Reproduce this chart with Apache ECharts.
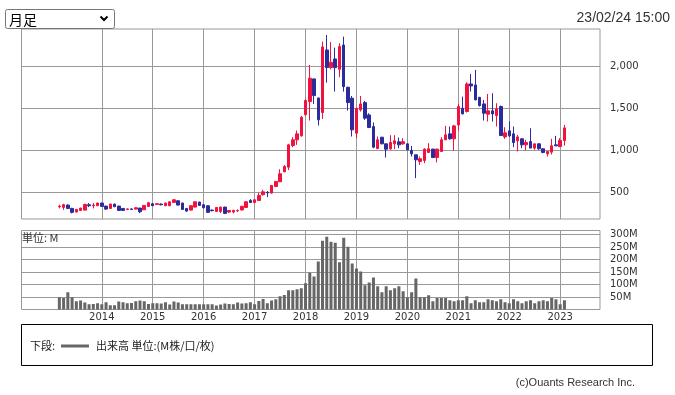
<!DOCTYPE html>
<html><head><meta charset="utf-8">
<script src="https://cdn.jsdelivr.net/npm/echarts@6/dist/echarts.min.js"></script>
<style>html,body{margin:0;padding:0;background:#fff}#c{width:675px;height:395px}</style>
</head><body><div id="c"></div>
<script>
// Monthly categories (Mar 2013 - Feb 2023)
const months = [
 '2013-03','2013-04','2013-05','2013-06','2013-07','2013-08','2013-09','2013-10','2013-11','2013-12',
 '2014-01','2014-02','2014-03','2014-04','2014-05','2014-06','2014-07','2014-08','2014-09','2014-10','2014-11','2014-12',
 '2015-01','2015-02','2015-03','2015-04','2015-05','2015-06','2015-07','2015-08','2015-09','2015-10','2015-11','2015-12',
 '2016-01','2016-02','2016-03','2016-04','2016-05','2016-06','2016-07','2016-08','2016-09','2016-10','2016-11','2016-12',
 '2017-01','2017-02','2017-03','2017-04','2017-05','2017-06','2017-07','2017-08','2017-09','2017-10','2017-11','2017-12',
 '2018-01','2018-02','2018-03','2018-04','2018-05','2018-06','2018-07','2018-08','2018-09','2018-10','2018-11','2018-12',
 '2019-01','2019-02','2019-03','2019-04','2019-05','2019-06','2019-07','2019-08','2019-09','2019-10','2019-11','2019-12',
 '2020-01','2020-02','2020-03','2020-04','2020-05','2020-06','2020-07','2020-08','2020-09','2020-10','2020-11','2020-12',
 '2021-01','2021-02','2021-03','2021-04','2021-05','2021-06','2021-07','2021-08','2021-09','2021-10','2021-11','2021-12',
 '2022-01','2022-02','2022-03','2022-04','2022-05','2022-06','2022-07','2022-08','2022-09','2022-10','2022-11','2022-12',
 '2023-01','2023-02'
];
const openP = [
 325,317,345,305,262,281,285,349,337,337,
 369,333,305,357,333,305,293,299,297,309,
 289,329,361,353,357,337,337,377,396,369,
 305,285,321,381,349,337,285,269,269,321,
 262,262,277,287,317,400,376,400,468,497,
 488,567,623,742,797,1055,1123,1170,1424,1579,
 1849,1622,1448,2194,1984,2087,1964,2253,1749,1619,
 1202,1480,1567,1420,1281,1019,1154,1075,1015,1075,
 1099,1075,1075,996,944,865,877,972,1012,912,
 984,1123,1194,1135,1301,1500,1460,1789,1777,1630,
 1551,1428,1468,1412,1520,1158,1230,1194,1111,1135,
 1063,1103,1024,1075,1016,956,976,1063,1043,1115
];
const closeP = [
 332,349,305,258,293,309,353,337,345,369,
 329,297,357,325,281,281,299,293,313,265,
 341,373,337,361,349,369,384,408,345,293,
 273,337,384,341,313,258,278,317,321,246,
 281,281,281,330,384,376,408,460,503,490,
 579,627,718,805,1063,1123,1194,1392,1591,1857,
 1650,1361,2230,1984,2047,1984,2234,1757,1567,1242,
 1499,1551,1381,1270,1035,1123,1075,1011,1091,1111,
 1063,1101,1004,956,885,897,1012,1016,912,1012,
 1123,1182,1135,1289,1519,1432,1789,1765,1599,1531,
 1440,1468,1432,1492,1174,1206,1170,1091,1158,1063,
 1091,1024,1075,1016,972,984,1051,1051,1115,1265
];
const lowP = [
 305,289,297,246,258,277,281,321,305,333,
 325,289,301,321,277,277,285,289,293,250,
 285,325,333,345,341,333,333,373,341,289,
 265,281,317,337,305,250,270,265,250,238,
 250,246,262,281,313,369,369,396,460,440,
 484,560,619,738,762,1035,1063,1162,1408,1353,
 1551,1293,1373,1805,1964,1698,1869,1698,1472,1162,
 1143,1460,1361,1262,1023,1011,1070,912,1003,1011,
 1023,1063,996,924,666,825,845,970,905,853,
 980,1120,1123,996,1234,1428,1448,1698,1595,1520,
 1353,1341,1341,1281,1174,1134,1154,1035,984,1023,
 996,1024,1004,1004,964,924,948,1051,1035,1055
];
const highP = [
 350,361,353,313,297,313,361,369,369,373,
 373,337,361,361,337,309,305,305,317,313,
 345,384,369,369,365,373,388,416,404,373,
 309,341,388,384,353,341,293,321,325,325,
 285,289,293,337,392,416,412,492,527,512,
 583,631,773,821,1075,1154,1234,1408,1611,2015,
 1853,1626,2293,2372,2289,2222,2273,2353,1757,1646,
 1503,1646,1587,1440,1329,1162,1158,1079,1178,1178,
 1150,1143,1079,1051,944,924,1023,1083,1016,1016,
 1154,1289,1281,1301,1551,1638,1809,1908,1956,1634,
 1599,1670,1678,1559,1531,1273,1341,1281,1182,1143,
 1123,1261,1075,1083,1016,986,1135,1170,1143,1301
];
// Volume in millions
const volume = [
 49,46,69,49,33,36,28,21,22,25,
 21,29,17,17,32,29,25,26,33,36,
 33,22,25,25,24,29,20,32,28,21,
 21,21,21,21,21,21,21,16,20,24,
 22,21,28,24,25,29,21,34,42,25,
 36,41,53,58,77,77,81,85,105,147,
 132,192,275,291,271,267,189,287,251,184,
 164,152,97,108,128,93,69,93,77,85,
 93,73,49,69,124,49,49,57,33,46,
 46,46,37,33,37,37,53,25,37,29,
 29,41,37,33,41,29,25,41,33,25,
 33,37,25,33,37,33,46,41,21,37
];
const yearLabels = ['2014','2015','2016','2017','2018','2019','2020','2021','2022','2023'];
const priceTicks = [500, 1000, 1500, 2000];
const volumeTicks = [50, 100, 150, 200, 250, 300];

function monthIndex(s) { const p = s.split('-'); return (Number(p[0]) - 2014) * 12 + (Number(p[1]) - 1); }
const candleData = months.map((m, i) => [monthIndex(m), openP[i], closeP[i], lowP[i], highP[i]]);
const volData = months.map((m, i) => [monthIndex(m), volume[i]]);
const yearPos = yearLabels.map(y => monthIndex(y + '-01'));

const GRID = '#999999';
const X_MIN = -18.92, X_MAX = 117.38;
const axisFont = { fontFamily: 'DejaVu Sans', fontSize: 10, color: '#333' };
const cjk = '"Noto Sans CJK JP", sans-serif';

const chart = echarts.init(document.getElementById('c'), null, { renderer: 'canvas' });
chart.setOption({
  animation: false,
  backgroundColor: '#fff',
  grid: [
    { left: 21.5, right: 75, top: 29, height: 190, show: true, borderColor: GRID, borderWidth: 1, backgroundColor: 'transparent' },
    { left: 21.5, right: 75, top: 230.5, height: 79, show: true, borderColor: GRID, borderWidth: 1, backgroundColor: 'transparent' }
  ],
  xAxis: [
    { type: 'value', gridIndex: 0, min: X_MIN, max: X_MAX,
      axisLine: { show: false }, axisTick: { show: false, customValues: yearPos },
      axisLabel: { show: false, customValues: yearPos },
      splitLine: { show: true, lineStyle: { color: GRID, width: 1 } } },
    { type: 'value', gridIndex: 1, min: X_MIN, max: X_MAX,
      axisLine: { show: false }, axisTick: { show: false, customValues: yearPos },
      axisLabel: Object.assign({ show: true, customValues: yearPos, margin: 3,
        formatter: v => yearLabels[yearPos.indexOf(Math.round(v))] || '' }, axisFont),
      splitLine: { show: true, lineStyle: { color: GRID, width: 1 } } }
  ],
  yAxis: [
    { type: 'value', gridIndex: 0, position: 'right', min: 179, max: 2444,
      axisLine: { show: true, lineStyle: { color: GRID } },
      axisTick: { show: true, inside: false, length: 5, lineStyle: { color: GRID }, customValues: priceTicks },
      axisLabel: Object.assign({ customValues: priceTicks, margin: 10,
        formatter: v => Number(v).toLocaleString('en-US') }, axisFont),
      splitLine: { show: true, lineStyle: { color: GRID, width: 1 } } },
    { type: 'value', gridIndex: 1, position: 'right', min: 0, max: 316,
      axisLine: { show: true, lineStyle: { color: GRID } },
      axisTick: { show: true, inside: false, length: 5, lineStyle: { color: GRID }, customValues: volumeTicks },
      axisLabel: Object.assign({ customValues: volumeTicks, margin: 10,
        formatter: v => v + 'M' }, axisFont),
      splitLine: { show: true, lineStyle: { color: GRID, width: 1 } } }
  ],
  series: [
    { type: 'candlestick', xAxisIndex: 0, yAxisIndex: 0, data: candleData, barWidth: 3,
      itemStyle: { color: '#f2123f', color0: '#2c2b9c', borderColor: '#f2123f', borderColor0: '#2c2b9c', borderWidth: 1 } },
    { type: 'bar', xAxisIndex: 1, yAxisIndex: 1, data: volData, barWidth: 3,
      itemStyle: { color: '#666666' } }
  ],
  graphic: [
    { type: 'rect', shape: { x: 5.5, y: 9.5, width: 109, height: 19, r: 2 },
      style: { fill: '#fff', stroke: '#767676', lineWidth: 1 }, z: 100 },
    { type: 'text', x: 9, y: 19.5, style: { text: '月足', font: '14px ' + cjk, fill: '#000', verticalAlign: 'middle' }, z: 101 },
    { type: 'polyline', shape: { points: [[100.5, 16.5], [104, 20], [107.5, 16.5]] },
      style: { stroke: '#000', lineWidth: 2, fill: null }, z: 101 },
    { type: 'text', x: 670, y: 18, style: { text: '23/02/24 15:00', font: '14px "Liberation Sans", Arial, sans-serif', fill: '#333', align: 'right', verticalAlign: 'middle' }, z: 101 },
    { type: 'text', x: 22, y: 237.5, style: { text: '単位: M', font: '11px ' + cjk, fill: '#333', verticalAlign: 'middle' }, z: 101 },
    { type: 'rect', shape: { x: 21.5, y: 324.5, width: 631, height: 41 },
      style: { fill: '#fff', stroke: '#000', lineWidth: 1 }, z: 100 },
    { type: 'text', x: 30, y: 346, style: { text: '下段:', font: '11px ' + cjk, fill: '#222', verticalAlign: 'middle' }, z: 101 },
    { type: 'line', shape: { x1: 61, y1: 346, x2: 89, y2: 346 }, style: { stroke: '#666666', lineWidth: 3 }, z: 101 },
    { type: 'text', x: 96, y: 346, style: { text: '出来高 単位:(M株/口/枚)', font: '11px ' + cjk, fill: '#222', verticalAlign: 'middle' }, z: 101 },
    { type: 'text', x: 635, y: 383, style: { text: '(c)Ouants Research Inc.', font: '11px "Liberation Sans", Arial, sans-serif', fill: '#333', align: 'right', verticalAlign: 'middle' }, z: 101 }
  ]
});
</script>
</body></html>
